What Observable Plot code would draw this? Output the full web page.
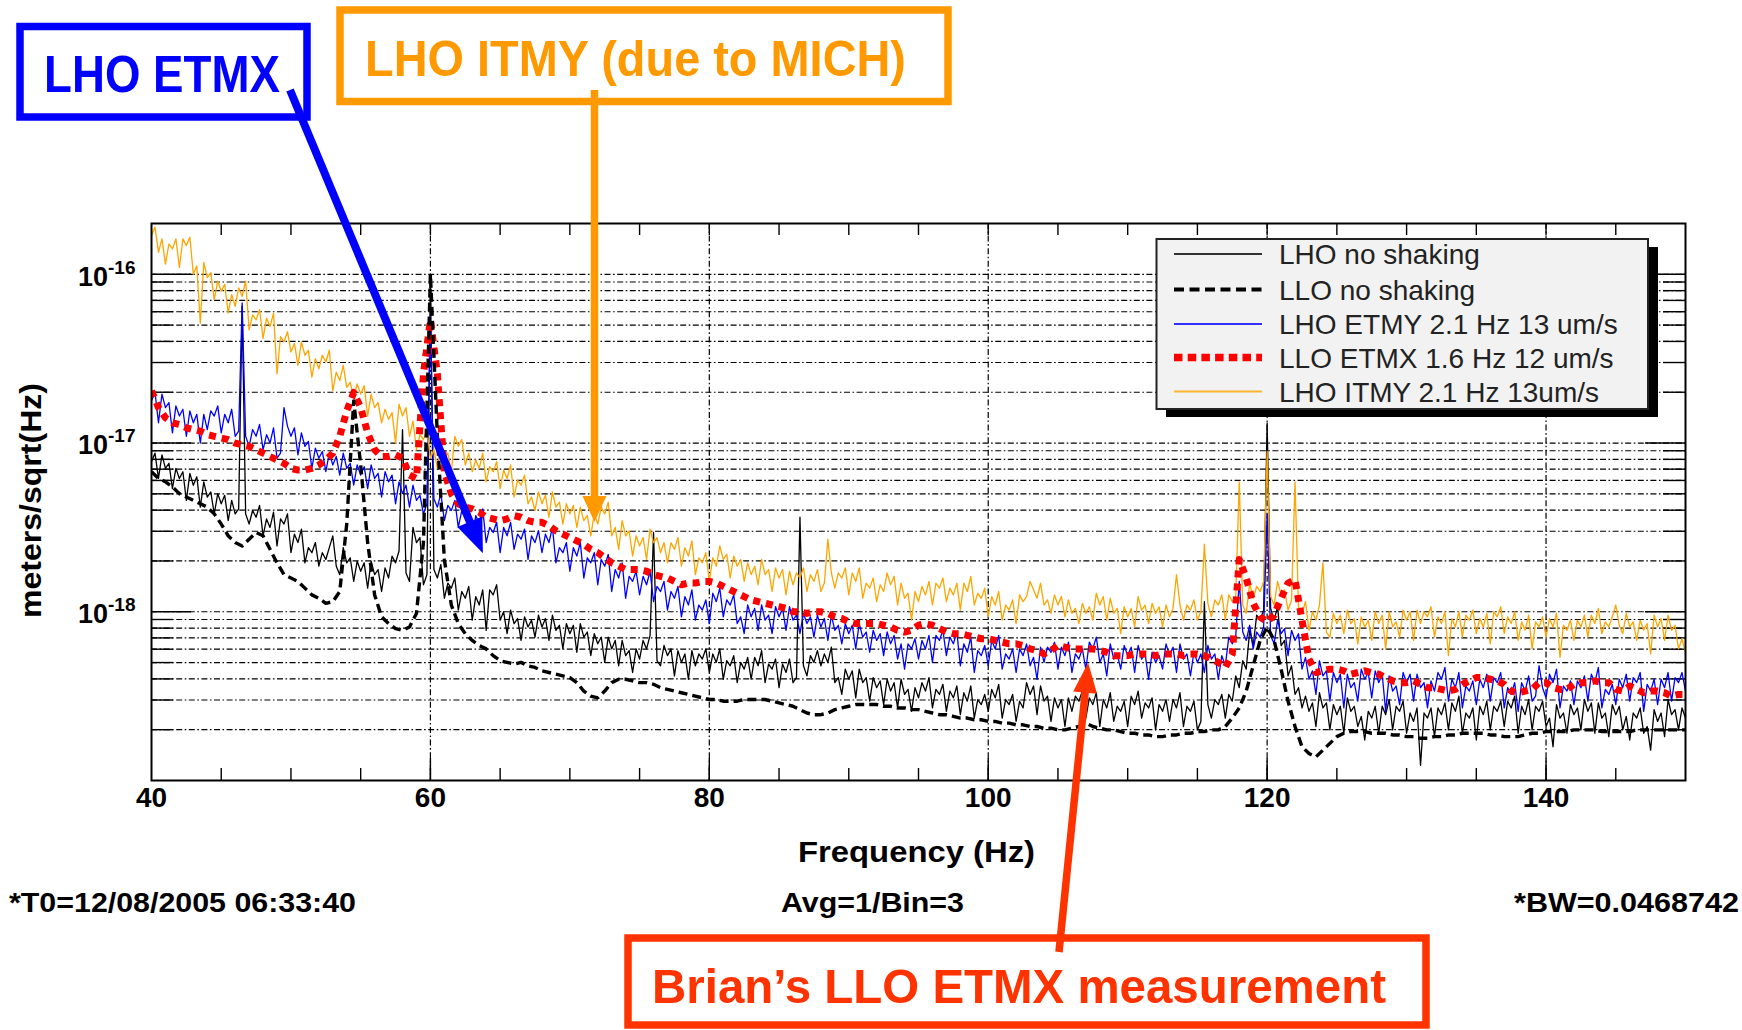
<!DOCTYPE html>
<html>
<head>
<meta charset="utf-8">
<script src="https://cdn.jsdelivr.net/npm/d3@7"></script>
<script src="https://cdn.jsdelivr.net/npm/@observablehq/plot@0.6"></script>
<style>
  html, body { margin: 0; padding: 0; background: #fff; overflow: hidden; }
  #chart { width: 1742px; height: 1030px; }
</style>
</head>
<body>
<div id="chart"></div>
<script>
// ---------------- DATA ----------------
// Main frequency grid: 40 Hz to 150 Hz in 0.5 Hz steps (221 samples).
// "Mid" arrays hold the extra readings at the quarter points 40.25, 40.75, ... 149.75 Hz (220 samples).
const FREQ_START = 40;
const FREQ_STEP = 0.5;

// Values are log10 of the amplitude spectral density in meters/sqrt(Hz).
const lhoNoShaking = [
  -17.11,-17.21,-17.15,-17.27,-17.21,-17.34,-17.25,-17.38,-17.32,-17.42,-17.36,-17.46,-17.42,-16.19,-17.48,-17.44,-17.55,-17.50,-17.61,-17.48,
  -17.65,-17.59,-17.71,-17.65,-17.73,-17.69,-17.55,-17.78,-17.71,-17.82,-17.76,-17.86,-17.78,-17.88,-17.80,-17.71,-16.92,-17.82,-17.59,-17.84,
  -16.02,-17.80,-17.92,-17.86,-17.99,-17.92,-18.05,-17.96,-18.11,-17.90,-18.05,-18.13,-18.07,-18.17,-18.09,-18.15,-18.09,-18.17,-18.11,-18.22,
  -18.13,-18.24,-18.15,-18.26,-18.19,-18.30,-18.22,-18.32,-18.26,-18.36,-18.28,-18.22,-17.53,-18.32,-18.26,-18.38,-18.30,-18.40,-18.32,-18.28,
  -18.36,-18.30,-18.40,-18.32,-18.42,-18.34,-18.40,-18.32,-18.42,-18.34,-18.45,-18.36,-18.42,-17.44,-18.38,-18.30,-18.32,-18.30,-18.42,-18.49,
  -18.40,-18.51,-18.42,-18.53,-18.45,-18.55,-18.47,-18.57,-18.49,-18.59,-18.51,-18.47,-18.57,-18.49,-18.59,-18.51,-18.61,-18.53,-18.63,-18.55,
  -18.59,-18.51,-18.63,-18.55,-18.65,-18.57,-18.49,-18.61,-18.53,-18.65,-18.57,-18.68,-18.59,-18.53,-18.63,-18.55,-18.68,-18.57,-18.65,-18.59,
  -18.68,-18.55,-18.63,-18.57,-18.70,-18.59,-18.65,-18.57,-18.68,-18.59,-18.70,-17.94,-18.63,-18.55,-18.63,-18.53,-18.45,-18.34,-18.20,-18.05,
  -16.88,-18.05,-18.20,-18.38,-18.49,-18.57,-18.59,-18.68,-18.57,-18.70,-18.61,-18.72,-18.59,-18.68,-18.76,-18.63,-18.72,-18.61,-18.70,-18.59,
  -18.72,-18.65,-18.91,-18.63,-18.74,-18.61,-18.70,-18.59,-18.72,-18.63,-18.76,-18.61,-18.70,-18.59,-18.68,-18.57,-18.72,-18.61,-18.70,-18.59,
  -18.68,-18.80,-18.63,-18.72,-18.61,-18.70,-18.59,-18.72,-18.63,-18.74,-18.61,-18.70,-18.76,-18.63,-18.72,-18.82,-18.65,-18.74,-18.61,-18.70,
  -18.63
];
const lhoNoShakingMid = [
  -17.06,-17.07,-17.12,-17.15,-17.17,-17.18,-17.20,-17.23,-17.29,-17.30,-17.31,-17.34,-17.39,-17.42,-17.40,-17.37,-17.45,-17.41,-17.45,-17.42,
  -17.54,-17.51,-17.62,-17.59,-17.65,-17.62,-17.73,-17.62,-17.68,-17.70,-17.71,-17.70,-17.75,-17.74,-17.67,-17.64,-17.77,-17.50,-17.56,-17.78,
  -17.75,-17.72,-17.83,-17.80,-17.88,-17.85,-17.91,-17.87,-17.87,-17.84,-18.00,-17.99,-18.04,-18.03,-18.05,-18.02,-18.04,-18.02,-18.08,-18.07,
  -18.08,-18.07,-18.12,-18.13,-18.15,-18.15,-18.17,-18.17,-18.23,-18.22,-18.17,-18.14,-18.29,-18.20,-18.22,-18.23,-18.25,-18.23,-18.25,-18.22,
  -18.25,-18.22,-18.29,-18.26,-18.30,-18.27,-18.27,-18.23,-18.31,-18.28,-18.31,-18.28,-18.39,-18.32,-18.26,-18.23,-18.25,-18.21,-18.39,-18.34,
  -18.35,-18.34,-18.39,-18.39,-18.41,-18.40,-18.42,-18.40,-18.46,-18.45,-18.42,-18.39,-18.46,-18.43,-18.47,-18.44,-18.48,-18.44,-18.52,-18.49,
  -18.46,-18.43,-18.52,-18.49,-18.53,-18.42,-18.44,-18.44,-18.50,-18.51,-18.52,-18.51,-18.50,-18.47,-18.51,-18.48,-18.52,-18.48,-18.56,-18.53,
  -18.50,-18.47,-18.54,-18.51,-18.55,-18.52,-18.52,-18.48,-18.56,-18.53,-18.65,-18.55,-18.52,-18.49,-18.49,-18.38,-18.29,-18.11,-18.02,-17.99,
  -17.98,-17.97,-18.17,-18.32,-18.45,-18.50,-18.54,-18.48,-18.54,-18.55,-18.56,-18.51,-18.56,-18.62,-18.59,-18.56,-18.56,-18.52,-18.56,-18.53,
  -18.60,-18.57,-18.60,-18.57,-18.57,-18.54,-18.54,-18.50,-18.60,-18.57,-18.56,-18.53,-18.56,-18.53,-18.53,-18.50,-18.56,-18.52,-18.56,-18.53,
  -18.63,-18.55,-18.60,-18.55,-18.57,-18.52,-18.54,-18.54,-18.60,-18.55,-18.56,-18.62,-18.60,-18.57,-18.68,-18.58,-18.60,-18.52,-18.58,-18.57
];

const lloNoShaking = [
  -17.17,-17.21,-17.23,-17.26,-17.30,-17.32,-17.34,-17.36,-17.38,-17.42,-17.48,-17.55,-17.59,-17.61,-17.57,-17.53,-17.55,-17.63,-17.71,-17.78,
  -17.80,-17.82,-17.86,-17.90,-17.92,-17.95,-17.94,-17.88,-17.48,-16.75,-17.13,-17.59,-17.90,-18.03,-18.07,-18.10,-18.11,-18.09,-18.01,-17.59,
  -16.00,-16.96,-17.69,-17.96,-18.07,-18.13,-18.17,-18.20,-18.22,-18.26,-18.29,-18.30,-18.31,-18.30,-18.32,-18.33,-18.35,-18.36,-18.37,-18.38,
  -18.39,-18.42,-18.47,-18.50,-18.51,-18.47,-18.42,-18.40,-18.40,-18.41,-18.42,-18.42,-18.43,-18.45,-18.46,-18.47,-18.48,-18.49,-18.50,-18.51,
  -18.52,-18.52,-18.53,-18.53,-18.53,-18.52,-18.52,-18.52,-18.52,-18.53,-18.54,-18.55,-18.56,-18.58,-18.60,-18.61,-18.61,-18.60,-18.58,-18.57,
  -18.56,-18.55,-18.55,-18.55,-18.55,-18.56,-18.56,-18.57,-18.57,-18.58,-18.58,-18.59,-18.60,-18.61,-18.61,-18.62,-18.63,-18.63,-18.64,-18.64,
  -18.65,-18.65,-18.66,-18.66,-18.67,-18.67,-18.68,-18.68,-18.69,-18.69,-18.70,-18.70,-18.69,-18.68,-18.66,-18.68,-18.69,-18.70,-18.70,-18.71,
  -18.72,-18.72,-18.73,-18.73,-18.74,-18.74,-18.73,-18.73,-18.72,-18.72,-18.71,-18.71,-18.70,-18.70,-18.68,-18.63,-18.57,-18.47,-18.32,-18.17,
  -18.09,-18.17,-18.34,-18.53,-18.68,-18.80,-18.84,-18.86,-18.82,-18.78,-18.74,-18.72,-18.71,-18.71,-18.71,-18.72,-18.72,-18.72,-18.73,-18.73,
  -18.74,-18.74,-18.75,-18.75,-18.74,-18.74,-18.73,-18.73,-18.72,-18.72,-18.72,-18.72,-18.73,-18.73,-18.74,-18.74,-18.74,-18.73,-18.72,-18.72,
  -18.71,-18.71,-18.71,-18.71,-18.70,-18.70,-18.70,-18.70,-18.71,-18.71,-18.71,-18.71,-18.71,-18.70,-18.70,-18.70,-18.70,-18.70,-18.70,-18.70,
  -18.70
];

const lhoEtmy = [
  -16.75,-16.88,-16.79,-16.94,-16.84,-16.96,-16.88,-17.00,-16.92,-16.84,-16.94,-16.88,-16.96,-16.17,-17.02,-16.96,-17.04,-17.00,-17.09,-16.79,
  -16.96,-17.07,-17.02,-17.15,-17.09,-17.17,-17.13,-17.19,-17.15,-17.25,-17.19,-17.27,-17.21,-17.32,-17.23,-17.36,-17.30,-17.38,-17.34,-17.42,
  -16.25,-17.38,-17.46,-17.40,-17.50,-17.44,-17.57,-17.48,-17.59,-17.53,-17.65,-17.55,-17.63,-17.57,-17.69,-17.59,-17.65,-17.59,-17.71,-17.65,
  -17.76,-17.67,-17.80,-17.71,-17.84,-17.73,-17.88,-17.80,-17.92,-17.82,-17.90,-17.84,-17.94,-17.88,-17.99,-17.92,-18.03,-17.96,-18.05,-17.99,
  -18.07,-17.94,-18.03,-17.96,-18.07,-18.13,-18.03,-18.11,-18.05,-18.13,-18.03,-18.11,-18.05,-18.13,-18.07,-18.15,-18.09,-18.17,-18.11,-18.19,
  -18.13,-18.22,-18.15,-18.24,-18.17,-18.26,-18.19,-18.28,-18.34,-18.22,-18.28,-18.22,-18.30,-18.17,-18.26,-18.19,-18.32,-18.24,-18.36,-18.26,
  -18.32,-18.22,-18.34,-18.28,-18.36,-18.26,-18.32,-18.40,-18.30,-18.24,-18.34,-18.26,-18.36,-18.28,-18.34,-18.22,-18.30,-18.38,-18.28,-18.34,
  -18.26,-18.36,-18.28,-18.40,-18.30,-18.34,-18.26,-18.36,-18.28,-18.38,-18.30,-18.36,-18.28,-18.40,-18.32,-18.19,-17.82,-18.17,-18.22,-18.15,
  -17.42,-18.19,-18.13,-18.26,-18.17,-18.34,-18.40,-18.49,-18.38,-18.53,-18.42,-18.57,-18.45,-18.53,-18.40,-18.51,-18.42,-18.59,-18.47,-18.55,
  -18.42,-18.53,-18.45,-18.57,-18.47,-18.40,-18.53,-18.45,-18.57,-18.47,-18.55,-18.45,-18.53,-18.42,-18.57,-18.49,-18.59,-18.47,-18.53,-18.32,
  -18.51,-18.42,-18.57,-18.47,-18.55,-18.45,-18.53,-18.42,-18.57,-18.49,-18.55,-18.45,-18.53,-18.42,-18.59,-18.47,-18.55,-18.45,-18.53,-18.42,
  -18.47
];
const lhoEtmyMid = [
  -16.70,-16.71,-16.76,-16.78,-16.80,-16.81,-16.83,-16.83,-16.81,-16.78,-16.83,-16.80,-16.93,-16.96,-16.92,-16.89,-16.95,-16.91,-17.06,-16.90,
  -16.91,-16.94,-16.99,-17.03,-17.05,-17.06,-17.08,-17.06,-17.12,-17.13,-17.14,-17.13,-17.18,-17.17,-17.19,-17.23,-17.25,-17.25,-17.31,-17.36,
  -17.33,-17.30,-17.37,-17.34,-17.40,-17.37,-17.43,-17.39,-17.50,-17.47,-17.50,-17.47,-17.54,-17.51,-17.55,-17.52,-17.54,-17.50,-17.62,-17.59,
  -17.62,-17.59,-17.68,-17.65,-17.69,-17.66,-17.75,-17.71,-17.79,-17.76,-17.79,-17.76,-17.85,-17.82,-17.88,-17.85,-17.91,-17.87,-17.96,-17.93,
  -17.89,-17.86,-17.93,-17.90,-18.03,-17.96,-17.98,-17.96,-18.02,-17.97,-17.98,-17.97,-18.02,-18.01,-18.03,-18.02,-18.04,-18.02,-18.08,-18.07,
  -18.08,-18.07,-18.12,-18.11,-18.13,-18.12,-18.14,-18.19,-18.19,-18.16,-18.17,-18.14,-18.14,-18.11,-18.15,-18.12,-18.19,-18.15,-18.23,-18.20,
  -18.17,-18.14,-18.25,-18.22,-18.22,-18.19,-18.27,-18.21,-18.21,-18.18,-18.21,-18.18,-18.25,-18.22,-18.18,-18.15,-18.25,-18.19,-18.25,-18.20,
  -18.21,-18.20,-18.25,-18.24,-18.26,-18.19,-18.21,-18.19,-18.25,-18.24,-18.25,-18.20,-18.25,-18.26,-18.15,-18.14,-18.12,-18.08,-18.12,-18.09,
  -18.14,-18.05,-18.10,-18.11,-18.13,-18.27,-18.35,-18.29,-18.35,-18.36,-18.37,-18.37,-18.42,-18.34,-18.36,-18.35,-18.37,-18.38,-18.44,-18.36,
  -18.37,-18.37,-18.42,-18.41,-18.36,-18.33,-18.40,-18.36,-18.44,-18.41,-18.40,-18.37,-18.39,-18.36,-18.45,-18.42,-18.42,-18.38,-18.50,-18.45,
  -18.37,-18.34,-18.44,-18.41,-18.41,-18.38,-18.37,-18.33,-18.46,-18.43,-18.40,-18.37,-18.39,-18.36,-18.43,-18.40,-18.40,-18.36,-18.39,-18.36
];

const lloEtmx = [
  -16.69,-16.79,-16.85,-16.88,-16.89,-16.91,-16.92,-16.93,-16.95,-16.96,-16.97,-16.98,-17.00,-17.01,-17.02,-17.04,-17.06,-17.08,-17.10,-17.12,
  -17.15,-17.16,-17.16,-17.15,-17.13,-17.10,-17.06,-16.96,-16.81,-16.70,-16.79,-16.94,-17.04,-17.08,-17.08,-17.07,-17.09,-17.19,-17.21,-16.59,
  -16.27,-16.59,-17.17,-17.30,-17.36,-17.38,-17.39,-17.41,-17.44,-17.45,-17.46,-17.45,-17.43,-17.44,-17.46,-17.47,-17.47,-17.49,-17.52,-17.54,
  -17.56,-17.58,-17.60,-17.63,-17.65,-17.68,-17.71,-17.73,-17.75,-17.75,-17.75,-17.76,-17.78,-17.79,-17.80,-17.82,-17.84,-17.83,-17.83,-17.82,
  -17.82,-17.83,-17.85,-17.87,-17.89,-17.91,-17.93,-17.94,-17.95,-17.96,-17.97,-17.98,-18.00,-18.00,-18.01,-18.00,-18.00,-18.01,-18.03,-18.04,
  -18.06,-18.07,-18.07,-18.07,-18.07,-18.08,-18.09,-18.11,-18.12,-18.11,-18.08,-18.07,-18.08,-18.10,-18.12,-18.13,-18.13,-18.14,-18.15,-18.16,
  -18.16,-18.17,-18.18,-18.19,-18.19,-18.20,-18.22,-18.23,-18.25,-18.23,-18.20,-18.21,-18.22,-18.22,-18.22,-18.22,-18.23,-18.24,-18.26,-18.26,
  -18.26,-18.25,-18.25,-18.25,-18.26,-18.25,-18.25,-18.25,-18.26,-18.25,-18.25,-18.26,-18.28,-18.30,-18.33,-18.25,-17.69,-17.80,-17.95,-18.03,
  -18.06,-18.02,-17.92,-17.83,-17.81,-18.05,-18.28,-18.36,-18.35,-18.34,-18.34,-18.35,-18.37,-18.36,-18.35,-18.36,-18.37,-18.39,-18.41,-18.42,
  -18.42,-18.41,-18.43,-18.45,-18.45,-18.46,-18.47,-18.46,-18.43,-18.41,-18.39,-18.39,-18.40,-18.41,-18.43,-18.47,-18.48,-18.47,-18.46,-18.42,
  -18.42,-18.45,-18.46,-18.46,-18.43,-18.42,-18.42,-18.41,-18.42,-18.42,-18.46,-18.47,-18.44,-18.46,-18.48,-18.47,-18.47,-18.48,-18.50,-18.49,
  -18.49
];

const lhoItmy = [
  -15.77,-15.87,-15.94,-15.85,-15.96,-15.83,-16.00,-16.29,-16.02,-16.15,-16.10,-16.23,-16.19,-16.13,-16.33,-16.27,-16.38,-16.31,-16.59,-16.40,
  -16.46,-16.54,-16.48,-16.61,-16.56,-16.52,-16.69,-16.63,-16.67,-16.73,-16.71,-16.84,-16.79,-16.88,-16.86,-17.00,-16.84,-16.96,-17.04,-16.98,
  -17.09,-17.15,-17.09,-17.17,-17.02,-17.13,-17.17,-17.15,-17.23,-17.17,-17.27,-17.21,-17.32,-17.25,-17.36,-17.40,-17.36,-17.44,-17.38,-17.48,
  -17.42,-17.50,-17.46,-17.55,-17.48,-17.42,-17.55,-17.63,-17.55,-17.67,-17.61,-17.69,-17.59,-17.65,-17.71,-17.63,-17.73,-17.67,-17.78,-17.71,
  -17.82,-17.73,-17.69,-17.80,-17.73,-17.82,-17.78,-17.84,-17.78,-17.88,-17.80,-17.90,-17.84,-17.80,-17.88,-17.82,-17.88,-17.57,-17.86,-17.80,
  -17.90,-17.82,-17.92,-17.86,-17.94,-17.88,-17.84,-17.96,-17.92,-18.05,-17.94,-17.90,-17.96,-17.86,-17.94,-17.90,-17.99,-17.88,-17.96,-17.92,
  -18.03,-17.96,-18.05,-17.99,-18.07,-17.94,-17.82,-17.92,-17.96,-18.01,-17.96,-18.03,-18.01,-18.07,-18.01,-18.05,-17.96,-18.05,-18.01,-18.13,
  -18.03,-18.09,-17.99,-18.07,-18.01,-18.09,-18.03,-17.78,-18.05,-17.99,-18.05,-17.60,-18.03,-17.96,-18.05,-17.94,-17.23,-18.01,-17.92,-17.88,
  -17.05,-17.96,-17.90,-17.99,-17.23,-18.01,-18.11,-18.05,-17.71,-18.15,-18.07,-18.13,-18.07,-18.19,-18.09,-18.17,-18.07,-18.22,-18.09,-18.15,
  -18.05,-18.17,-18.07,-18.03,-18.15,-18.07,-18.26,-18.09,-18.15,-18.05,-18.13,-18.09,-18.19,-18.03,-18.13,-18.07,-18.17,-18.11,-18.22,-18.09,
  -18.15,-18.09,-18.27,-18.11,-18.17,-18.09,-18.15,-18.07,-18.13,-18.09,-17.96,-18.13,-18.09,-18.17,-18.11,-18.25,-18.09,-18.17,-18.11,-18.22,
  -18.24
];
const lhoItmyMid = [
  -15.72,-15.79,-15.82,-15.79,-15.79,-15.78,-15.95,-15.93,-15.99,-16.04,-16.06,-16.12,-16.08,-16.04,-16.24,-16.21,-16.26,-16.23,-16.37,-16.34,
  -16.41,-16.40,-16.45,-16.50,-16.48,-16.45,-16.58,-16.54,-16.64,-16.65,-16.66,-16.71,-16.76,-16.80,-16.82,-16.77,-16.79,-16.87,-16.95,-16.92,
  -17.04,-17.01,-17.06,-16.96,-16.98,-17.06,-17.10,-17.06,-17.14,-17.11,-17.16,-17.13,-17.22,-17.19,-17.32,-17.29,-17.31,-17.29,-17.35,-17.36,
  -17.37,-17.38,-17.43,-17.42,-17.38,-17.35,-17.50,-17.46,-17.52,-17.55,-17.56,-17.51,-17.56,-17.59,-17.59,-17.56,-17.62,-17.58,-17.68,-17.65,
  -17.68,-17.61,-17.66,-17.67,-17.69,-17.71,-17.73,-17.69,-17.75,-17.74,-17.75,-17.76,-17.77,-17.74,-17.78,-17.75,-17.83,-17.77,-17.77,-17.74,
  -17.77,-17.74,-17.83,-17.80,-17.84,-17.77,-17.79,-17.83,-17.89,-17.88,-17.85,-17.82,-17.83,-17.80,-17.86,-17.83,-17.83,-17.79,-17.89,-17.86,
  -17.91,-17.88,-17.96,-17.93,-17.90,-17.91,-17.87,-17.83,-17.93,-17.90,-17.91,-17.93,-17.98,-17.95,-17.97,-17.89,-17.91,-17.92,-17.98,-17.97,
  -17.98,-17.91,-17.96,-17.95,-17.97,-17.96,-17.98,-17.96,-17.96,-17.93,-18.00,-17.95,-17.93,-17.90,-17.90,-17.91,-17.96,-17.83,-17.85,-17.82,
  -17.91,-17.82,-17.87,-17.93,-17.97,-17.94,-18.00,-17.96,-18.12,-18.01,-18.02,-17.99,-18.04,-18.03,-18.05,-18.00,-18.02,-18.00,-18.06,-17.99,
  -18.00,-17.99,-18.00,-17.97,-18.03,-18.00,-18.04,-18.00,-18.02,-17.99,-18.04,-18.01,-18.00,-17.97,-18.03,-18.00,-18.06,-18.02,-18.06,-18.03,
  -18.04,-18.01,-18.08,-18.05,-18.05,-18.02,-18.02,-17.98,-18.06,-18.03,-18.08,-18.01,-18.06,-18.05,-18.07,-18.02,-18.04,-18.02,-18.08,-18.16
];

const seriesNames = [
  "LHO no shaking",
  "LLO no shaking",
  "LHO ETMY 2.1 Hz 13 um/s",
  "LLO ETMX 1.6 Hz 12 um/s",
  "LHO ITMY 2.1 Hz 13um/s"
];

const xDomain = [40, 150];
const yDomain = [1e-19, 2e-16];
const xTickLabels = [40, 60, 80, 100, 120, 140];
const xGridValues = [60, 80, 100, 120, 140];
const xMinorTicks = [45, 50, 55, 60, 65, 70, 75, 80, 85, 90, 95, 100, 105, 110, 115, 120, 125, 130, 135, 140, 145];
const yTickValues = [1e-16, 1e-17, 1e-18];
const yTickLabels = ["10^-16", "10^-17", "10^-18"];
const yMinorMultipliers = [1, 2, 3, 4, 5, 6, 7, 8, 9];
const yDecades = [-19, -18, -17, -16];

const xTitle = "Frequency (Hz)";
const yTitle = "meters/sqrt(Hz)";
const footerLeft = "*T0=12/08/2005 06:33:40";
const footerMid = "Avg=1/Bin=3";
const footerRight = "*BW=0.0468742";

const calloutEtmx = "LHO ETMX";
const calloutItmy = "LHO ITMY (due to MICH)";
const calloutBrian = "Brian\u2019s LLO ETMX measurement";

// ---------------- BUILD ----------------
const FONT = "'Liberation Sans', Arial, Helvetica, sans-serif";
const W = 1742, H = 1030;
const mL = 151, mR = 57, mT = 223, mB = 250;
const frameW = W - mL - mR, frameH = H - mT - mB;

function toRows(main, mid) {
  const rows = [];
  main.forEach((v, i) => {
    rows.push({ f: FREQ_START + i * FREQ_STEP, a: Math.pow(10, v) });
    if (mid && i < mid.length) rows.push({ f: FREQ_START + (i + 0.5) * FREQ_STEP, a: Math.pow(10, mid[i]) });
  });
  return rows;
}

const styles = [
  { values: lhoNoShaking, mid: lhoNoShakingMid, stroke: "#000000", width: 1.3, dash: null },
  { values: lloNoShaking, mid: null,            stroke: "#000000", width: 3.4, dash: "9,5" },
  { values: lhoEtmy,      mid: lhoEtmyMid,      stroke: "#0000ff", width: 1.3, dash: null },
  { values: lloEtmx,      mid: null,            stroke: "#ff0000", width: 7,   dash: "7,6" },
  { values: lhoItmy,      mid: lhoItmyMid,      stroke: "#ffa500", width: 1.3, dash: null }
];
const series = styles.map((s, i) => ({ ...s, name: seriesNames[i], rows: toRows(s.values, s.mid) }));
// draw order: black solid, blue, orange, red dotted, black dashed
const drawOrder = [0, 2, 4, 3, 1];

const yGrid = [];
for (const d of yDecades) for (const m of yMinorMultipliers) {
  const v = m * Math.pow(10, d);
  if (v > yDomain[0] * 1.0001 && v < yDomain[1] * 0.9999) yGrid.push(v);
}
const yMajor = yGrid.filter(v => yTickValues.some(t => Math.abs(v / t - 1) < 1e-6));
const yMinor = yGrid.filter(v => !yMajor.includes(v));

const gridDash = "6,2.5,1.6,2.5";

const marks = [
  Plot.ruleY(yGrid, { stroke: "#000", strokeWidth: 1.2, strokeDasharray: gridDash }),
  Plot.ruleX(xGridValues, { stroke: "#000", strokeWidth: 1.2, strokeDasharray: gridDash }),
  // solid tick segments on left/right edges
  Plot.ruleY(yMinor, { stroke: "#000", strokeWidth: 1.4, insetRight: frameW - 22 }),
  Plot.ruleY(yMinor, { stroke: "#000", strokeWidth: 1.4, insetLeft: frameW - 22 }),
  Plot.ruleY(yMajor, { stroke: "#000", strokeWidth: 1.4, insetRight: frameW - 40 }),
  Plot.ruleY(yMajor, { stroke: "#000", strokeWidth: 1.4, insetLeft: frameW - 40 }),
  // x ticks top & bottom
  Plot.ruleX(xMinorTicks, { stroke: "#000", strokeWidth: 1.4, insetTop: frameH - 12 }),
  Plot.ruleX(xMinorTicks, { stroke: "#000", strokeWidth: 1.4, insetBottom: frameH - 12 }),
  Plot.ruleX(xGridValues, { stroke: "#000", strokeWidth: 1.4, insetTop: frameH - 22 }),
];
for (const i of drawOrder) {
  const s = series[i];
  marks.push(Plot.line(s.rows, {
    x: "f", y: "a", stroke: s.stroke, strokeWidth: s.width,
    strokeDasharray: s.dash || undefined, strokeLinecap: "butt", strokeLinejoin: "round",
    clip: true
  }));
}
marks.push(
  Plot.frame({ stroke: "#000", strokeWidth: 2 }),
  Plot.axisX({ ticks: xTickLabels, tickSize: 0, tickPadding: 7, label: null, tickFormat: d => String(d) }),
  Plot.axisY({ ticks: yTickValues, tickSize: 0, tickPadding: 16, label: null,
               tickFormat: d => yTickLabels[yTickValues.findIndex(t => Math.abs(d / t - 1) < 1e-6)] || "" })
);

const plot = Plot.plot({
  width: W, height: H,
  marginLeft: mL, marginRight: mR, marginTop: mT, marginBottom: mB,
  style: { fontFamily: FONT, background: "#fff", color: "#000", overflow: "visible" },
  x: { type: "linear", domain: xDomain },
  y: { type: "log", domain: yDomain },
  marks
});
document.getElementById("chart").appendChild(plot);

const svg = d3.select(plot);
const xs = plot.scale("x"), ys = plot.scale("y");

// style axis tick labels
svg.selectAll('g[aria-label="x-axis tick label"]').attr("font-size", 28).attr("font-weight", "bold")
  .selectAll("text").attr("font-size", 28).attr("font-weight", "bold");
svg.selectAll('g[aria-label="y-axis tick label"]').attr("font-size", 27).attr("font-weight", "bold")
  .selectAll("text").attr("font-size", 27).attr("font-weight", "bold");

// superscript exponents on y tick labels
svg.selectAll("text").each(function () {
  const t = this.textContent;
  if (t && t.indexOf("^") > 0 && this.childNodes.length === 1) {
    const [base, exp] = t.split("^");
    const sel = d3.select(this);
    sel.text(null);
    sel.append("tspan").attr("dy", "0.1em").text(base);
    sel.append("tspan").attr("dy", "-12").attr("font-size", 19).text(exp);
  }
});

const ann = svg.append("g").attr("font-family", FONT).attr("text-anchor", "start");

function addText(txt, x, y, size, len, color, opts = {}) {
  const t = ann.append("text").attr("x", x).attr("y", y).attr("font-size", size)
    .attr("text-anchor", "start")
    .attr("font-weight", "bold").attr("fill", color).text(txt);
  if (len) t.attr("textLength", len).attr("lengthAdjust", "spacingAndGlyphs");
  if (opts.transform) t.attr("transform", opts.transform);
  return t;
}

// axis titles and footer
addText(xTitle, 798, 862, 29, 237, "#000");
addText(yTitle, -117, 0, 29, 235, "#000", { transform: "translate(41,501) rotate(-90)" });
addText(footerLeft, 9, 912, 28, 347, "#000");
addText(footerMid, 781, 912, 28, 183, "#000");
addText(footerRight, 1514, 912, 28, 225, "#000");

// legend
const lg = svg.append("g").attr("font-family", FONT).attr("text-anchor", "start");
lg.append("rect").attr("x", 1166).attr("y", 247).attr("width", 492).attr("height", 170).attr("fill", "#000");
lg.append("rect").attr("x", 1156.5).attr("y", 239).attr("width", 491.5).attr("height", 170)
  .attr("fill", "#f2f2f2").attr("stroke", "#222").attr("stroke-width", 2);
const rowY = [254, 289.5, 324, 357.5, 391.5];
series.forEach((s, i) => {
  lg.append("line").attr("x1", 1174).attr("x2", 1262).attr("y1", rowY[i]).attr("y2", rowY[i])
    .attr("stroke", s.stroke).attr("stroke-width", Math.min(s.width + (s.dash ? 0.6 : 0.7), 8))
    .attr("stroke-dasharray", s.dash ? (i === 3 ? "8.5,5.2" : "10,5.5") : null)
    .attr("stroke-opacity", s.dash ? 1 : 0.8);
  lg.append("text").attr("x", 1279).attr("y", rowY[i]).attr("dy", "0.36em")
    .attr("text-anchor", "start")
    .attr("font-size", 28).attr("fill", "#222").text(s.name);
});

// callout boxes and arrows
function box(x, y, w, h, color) {
  ann.append("rect").attr("x", x).attr("y", y).attr("width", w).attr("height", h)
    .attr("fill", "none").attr("stroke", color).attr("stroke-width", 7.5);
}
function arrow(x1, y1, x2, y2, color, w, headLen, headW) {
  const dx = x2 - x1, dy = y2 - y1, len = Math.hypot(dx, dy), ux = dx / len, uy = dy / len;
  const bx = x2 - ux * headLen, by = y2 - uy * headLen;
  ann.append("line").attr("x1", x1).attr("y1", y1).attr("x2", bx + ux * 3).attr("y2", by + uy * 3)
    .attr("stroke", color).attr("stroke-width", w);
  const pts = [[x2, y2], [bx - uy * headW / 2, by + ux * headW / 2], [bx + uy * headW / 2, by - ux * headW / 2]];
  ann.append("polygon").attr("points", pts.map(p => p.join(",")).join(" ")).attr("fill", color);
}

const BLUE = "#0000ff", ORANGE = "#ff9900", RED = "#ff3300";
box(20, 26.5, 287, 90.5, BLUE);
addText(calloutEtmx, 44, 92, 51, 236, BLUE);
arrow(290, 90, xs.apply(63.8), ys.apply(2.21e-18), BLUE, 8, 34, 27);

box(340, 10, 608, 91.5, ORANGE);
addText(calloutItmy, 365, 76, 50, 541, ORANGE);
arrow(xs.apply(71.8), 90, xs.apply(71.8), ys.apply(3.38e-18), ORANGE, 7.5, 26, 24);

box(628, 938, 798, 87, RED);
addText(calloutBrian, 652, 1003, 49, 734, RED);
arrow(1059, 952, xs.apply(107.2), ys.apply(4.95e-19), RED, 7.5, 30, 24);
</script>
</body>
</html>
